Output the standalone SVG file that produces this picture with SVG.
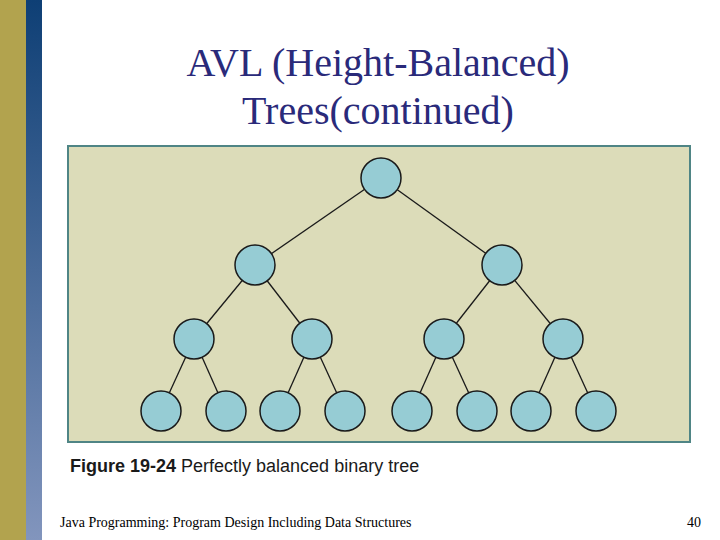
<svg xmlns="http://www.w3.org/2000/svg" width="720" height="540" viewBox="0 0 720 540">
<defs>
<linearGradient id="bg" x1="0" y1="0" x2="0" y2="1"><stop offset="0" stop-color="#0e3f75"/><stop offset="1" stop-color="#8295bd"/></linearGradient>
<style>
.n{fill:#96ccd4;stroke:#1a1a1a;stroke-width:1.5}
.e{stroke:#1a1a1a;stroke-width:1.3}
</style>
</defs>
<rect width="720" height="540" fill="#fff"/>
<rect x="0" y="0" width="26" height="540" fill="#b2a34e"/>
<rect x="26" y="0" width="16" height="540" fill="url(#bg)"/>
<text x="378" y="76" text-anchor="middle" font-family="Liberation Serif, serif" font-size="40" fill="#2a2a7a">AVL (Height-Balanced)</text>
<text x="378" y="124" text-anchor="middle" font-family="Liberation Serif, serif" font-size="40" fill="#2a2a7a">Trees(continued)</text>
<rect x="68" y="146" width="622" height="296" fill="#dcdcb9" stroke="#4f8585" stroke-width="2"/>
<g id="edges">
<line class="e" x1="381" y1="178" x2="255" y2="265"/><line class="e" x1="381" y1="178" x2="502" y2="265"/>
<line class="e" x1="255" y1="265" x2="194" y2="339"/><line class="e" x1="255" y1="265" x2="312" y2="339"/>
<line class="e" x1="502" y1="265" x2="444" y2="339"/><line class="e" x1="502" y1="265" x2="563" y2="339"/>
<line class="e" x1="194" y1="339" x2="161" y2="411"/><line class="e" x1="194" y1="339" x2="226" y2="411"/>
<line class="e" x1="312" y1="339" x2="280" y2="411"/><line class="e" x1="312" y1="339" x2="345" y2="411"/>
<line class="e" x1="444" y1="339" x2="412" y2="411"/><line class="e" x1="444" y1="339" x2="477" y2="411"/>
<line class="e" x1="563" y1="339" x2="531" y2="411"/><line class="e" x1="563" y1="339" x2="596" y2="411"/>
</g>
<g id="n0"><circle class="n" cx="381" cy="178" r="20"/></g>
<g id="n1"><circle class="n" cx="255" cy="265" r="20"/></g>
<g id="n2"><circle class="n" cx="502" cy="265" r="20"/></g>
<g id="n3"><circle class="n" cx="194" cy="339" r="20"/></g>
<g id="n4"><circle class="n" cx="312" cy="339" r="20"/></g>
<g id="n5"><circle class="n" cx="444" cy="339" r="20"/></g>
<g id="n6"><circle class="n" cx="563" cy="339" r="20"/></g>
<g id="n7"><circle class="n" cx="161" cy="411" r="20"/></g>
<g id="n8"><circle class="n" cx="226" cy="411" r="20"/></g>
<g id="n9"><circle class="n" cx="280" cy="411" r="20"/></g>
<g id="n10"><circle class="n" cx="345" cy="411" r="20"/></g>
<g id="n11"><circle class="n" cx="412" cy="411" r="20"/></g>
<g id="n12"><circle class="n" cx="477" cy="411" r="20"/></g>
<g id="n13"><circle class="n" cx="531" cy="411" r="20"/></g>
<g id="n14"><circle class="n" cx="596" cy="411" r="20"/></g>
<text x="70" y="472" font-family="Liberation Sans, sans-serif" font-size="18" fill="#1a1a1a"><tspan font-weight="bold">Figure 19-24</tspan> Perfectly balanced binary tree</text>
<text x="60" y="527" font-family="Liberation Serif, serif" font-size="14" fill="#000">Java Programming: Program Design Including Data Structures</text>
<text x="701" y="527" text-anchor="end" font-family="Liberation Serif, serif" font-size="14" fill="#000">40</text>
</svg>
